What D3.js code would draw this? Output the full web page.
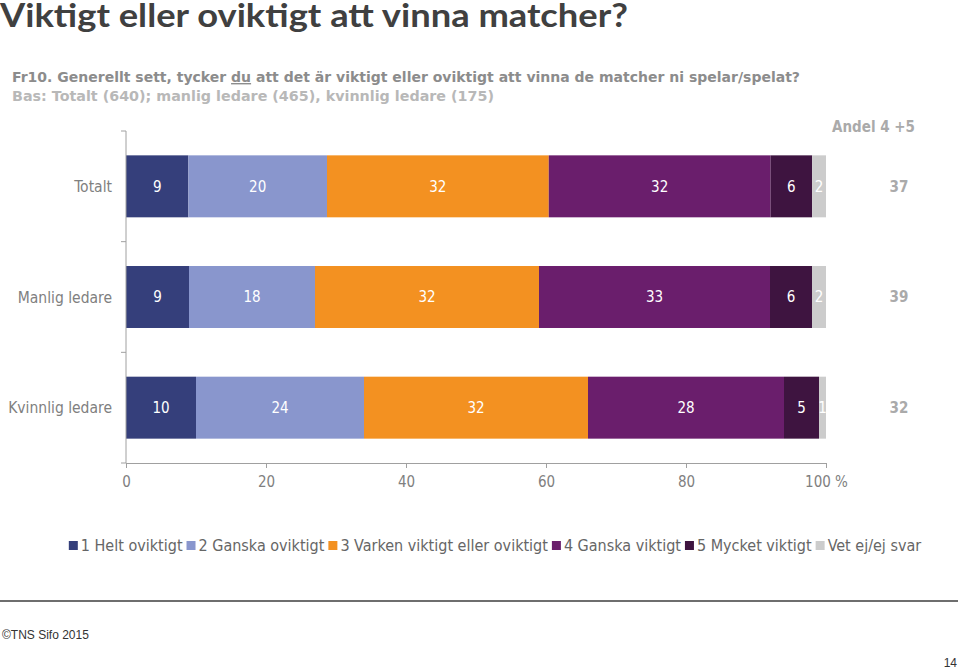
<!DOCTYPE html>
<html>
<head>
<meta charset="utf-8">
<script src="https://cdn.jsdelivr.net/npm/d3@7"></script>
<style>
  html, body { margin: 0; padding: 0; background: #fff; }
  svg { display: block; }
</style>
</head>
<body>
<svg id="chart" width="960" height="669"></svg>
<script>
const categories = ["Totalt", "Manlig ledare", "Kvinnlig ledare"];
const seriesNames = ["1 Helt oviktigt", "2 Ganska oviktigt", "3 Varken viktigt eller oviktigt", "4 Ganska viktigt", "5 Mycket viktigt", "Vet ej/ej svar"];
const helt = [9, 9, 10];
const ganskaOviktigt = [20, 18, 24];
const varken = [32, 32, 32];
const ganskaViktigt = [32, 33, 28];
const mycketViktigt = [6, 6, 5];
const vetEj = [2, 2, 1];
const andel45 = [37, 39, 32];
const xTicks = [0, 20, 40, 60, 80, 100];
const colors = ["#353f7b", "#8996cd", "#f39121", "#6a1e6c", "#3e1440", "#cccccc"];

const seriesValues = [helt, ganskaOviktigt, varken, ganskaViktigt, mycketViktigt, vetEj];
const svg = d3.select("#chart");
const FONT = "'DejaVu Sans Condensed', 'DejaVu Sans', Verdana, sans-serif";

// Title
svg.append("text").attr("x", 0).attr("y", 27)
  .attr("font-family", "Lato, 'Open Sans', sans-serif").attr("font-weight", "bold")
  .attr("font-size", 33).attr("fill", "#404040")
  .attr("textLength", 628).attr("lengthAdjust", "spacingAndGlyphs")
  .text("Viktigt eller oviktigt att vinna matcher?");

// Subtitle lines
const sub1 = svg.append("text").attr("x", 12).attr("y", 82)
  .attr("font-family", "'DejaVu Sans', Verdana, sans-serif").attr("font-weight", "bold")
  .attr("font-size", 14).attr("fill", "#8c8c8c")
  .attr("textLength", 788).attr("lengthAdjust", "spacingAndGlyphs");
sub1.append("tspan").text("Fr10. Generellt sett, tycker ");
sub1.append("tspan").attr("text-decoration", "underline").text("du");
sub1.append("tspan").text(" att det är viktigt eller oviktigt att vinna de matcher ni spelar/spelat?");

svg.append("text").attr("x", 12).attr("y", 101)
  .attr("font-family", "'DejaVu Sans', Verdana, sans-serif").attr("font-weight", "bold")
  .attr("font-size", 14).attr("fill", "#b8b8b8")
  .attr("textLength", 482).attr("lengthAdjust", "spacingAndGlyphs")
  .text("Bas: Totalt (640); manlig ledare (465), kvinnlig ledare (175)");

// Scales
const x = d3.scaleLinear().domain([0, 100]).range([126, 826]);
const y = d3.scaleBand().domain(categories).range([131, 463]).paddingInner(0.44).paddingOuter(0.22);

// Stack data (100% stacked: each row normalised to its total)
const rows = categories.map((c, i) => {
  const o = { cat: c };
  seriesNames.forEach((s, j) => { o[s] = seriesValues[j][i]; });
  return o;
});
const stacked = d3.stack().keys(seriesNames).offset(d3.stackOffsetExpand)(rows);

const gBars = svg.append("g");
stacked.forEach((layer, j) => {
  const key = layer.key;
  const g = gBars.append("g");
  g.selectAll("rect").data(layer).join("rect")
    .attr("x", d => x(d[0] * 100))
    .attr("y", d => y(d.data.cat))
    .attr("width", d => x(d[1] * 100) - x(d[0] * 100))
    .attr("height", y.bandwidth())
    .attr("fill", colors[j]);
  g.selectAll("text").data(layer).join("text")
    .attr("x", d => (x(d[0] * 100) + x(d[1] * 100)) / 2)
    .attr("y", d => y(d.data.cat) + y.bandwidth() / 2)
    .attr("dy", "0.36em")
    .attr("text-anchor", "middle")
    .attr("font-family", FONT).attr("font-size", 15)
    .attr("fill", "#ffffff")
    .text(d => d.data[key]);
});

// Y axis
const yAxisG = svg.append("g");
yAxisG.append("line").attr("x1", 126).attr("x2", 126).attr("y1", 131).attr("y2", 463)
  .attr("stroke", "#a0a0a0").attr("stroke-width", 1);
const yTickPos = d3.range(categories.length + 1).map(i => 131 + (463 - 131) * i / categories.length);
yAxisG.selectAll("line.tk").data(yTickPos).join("line").attr("class", "tk")
  .attr("x1", 121).attr("x2", 126).attr("y1", d => d).attr("y2", d => d)
  .attr("stroke", "#a0a0a0");
yAxisG.selectAll("text").data(categories).join("text")
  .attr("x", 112).attr("y", d => y(d) + y.bandwidth() / 2).attr("dy", "0.36em")
  .attr("text-anchor", "end").attr("font-family", FONT).attr("font-size", 15.5)
  .attr("fill", "#808080").text(d => d);

// X axis
const xAxis = d3.axisBottom(x).tickValues(xTicks).tickSize(5).tickPadding(8)
  .tickFormat(d => d === 100 ? "100 %" : d);
const xAxisG = svg.append("g").attr("transform", "translate(0,463)").call(xAxis);
xAxisG.select(".domain").attr("stroke", "#a0a0a0");
xAxisG.selectAll(".tick line").attr("stroke", "#a0a0a0");
xAxisG.selectAll(".tick text").attr("font-family", FONT).attr("font-size", 15).attr("fill", "#808080");

// Andel 4+5
svg.append("text").attr("x", 915).attr("y", 132).attr("text-anchor", "end")
  .attr("font-family", FONT).attr("font-weight", "bold").attr("font-size", 15)
  .attr("fill", "#aaaaaa").text("Andel 4 +5");
svg.selectAll("text.andel").data(categories).join("text").attr("class", "andel")
  .attr("x", 899).attr("y", d => y(d) + y.bandwidth() / 2).attr("dy", "0.36em")
  .attr("text-anchor", "middle").attr("font-family", FONT).attr("font-weight", "bold")
  .attr("font-size", 15).attr("fill", "#aaaaaa")
  .text((d, i) => andel45[i]);

// Legend
const legend = svg.append("g");
let lx = 0;
seriesNames.forEach((s, j) => {
  const item = legend.append("g").attr("transform", `translate(${lx},0)`);
  item.append("rect").attr("x", 0).attr("y", -10).attr("width", 9).attr("height", 9).attr("fill", colors[j]);
  const t = item.append("text").attr("x", 12).attr("y", 0)
    .attr("font-family", FONT).attr("font-size", 16).attr("fill", "#666666").text(s);
  lx += 12 + t.node().getComputedTextLength() + 4;
});
const legendW = lx - 4;
legend.attr("transform", `translate(${495 - legendW / 2},551)`);

// Footer
svg.append("line").attr("x1", 0).attr("x2", 958).attr("y1", 601).attr("y2", 601)
  .attr("stroke", "#6e6e6e").attr("stroke-width", 2);
svg.append("text").attr("x", 2).attr("y", 639)
  .attr("font-family", "'Liberation Sans', Arial, sans-serif").attr("font-size", 12)
  .attr("fill", "#333").text("©TNS Sifo 2015");
svg.append("text").attr("x", 957).attr("y", 667).attr("text-anchor", "end")
  .attr("font-family", "'Liberation Sans', Arial, sans-serif").attr("font-size", 12)
  .attr("fill", "#333").text("14");
</script>
</body>
</html>
